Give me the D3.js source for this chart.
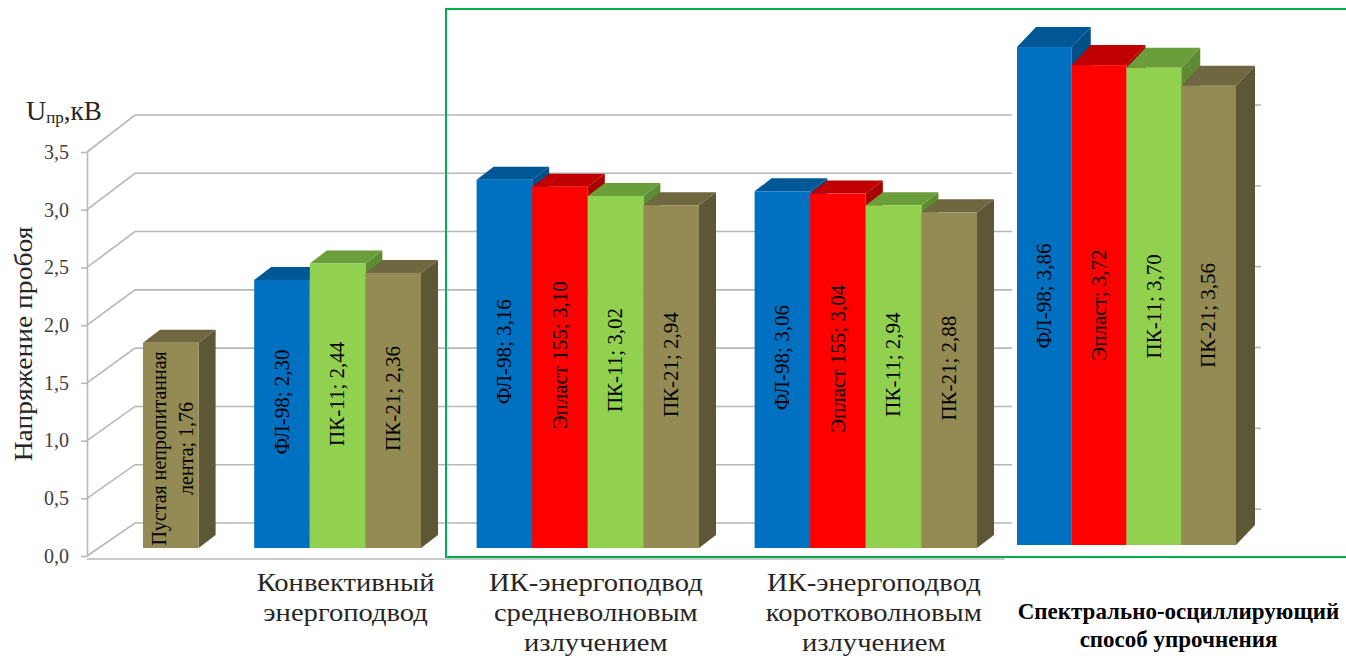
<!DOCTYPE html>
<html><head><meta charset="utf-8">
<script src="https://cdn.jsdelivr.net/npm/d3@7"></script>
<style>
html,body{margin:0;padding:0;background:#fff;}
svg{display:block;font-family:"Liberation Serif","Times New Roman",serif;}
</style></head>
<body><svg id="c" width="1346" height="656"></svg>
<script>
// ---------- DATA ----------
const categories = [
  [""],
  ["Конвективный", "энергоподвод"],
  ["ИК-энергоподвод", "средневолновым", "излучением"],
  ["ИК-энергоподвод", "коротковолновым", "излучением"],
  ["Спектрально-осциллирующий", "способ упрочнения"]
];
const seriesNames = ["Пустая непропитанная лента", "ФЛ-98", "Эпласт 155", "ПК-11", "ПК-21"];
const baseTape = [1.76, null, null, null, null];
const fl98     = [null, 2.30, 3.16, 3.06, 3.86];
const eplast   = [null, null, 3.10, 3.04, 3.72];
const pk11     = [null, 2.44, 3.02, 2.94, 3.70];
const pk21     = [null, 2.36, 2.94, 2.88, 3.56];
const labelNamesLastGroup = ["", "ФЛ-98", "Эпласт", "ПК-11", "ПК-21"];
const yTicks = [0, 0.5, 1.0, 1.5, 2.0, 2.5, 3.0, 3.5];
const insetGridTicks = [0.5, 1.0, 1.5, 2.0, 2.5, 3.0];
const yTitle = "Напряжение пробоя";

const seriesValues = [baseTape, fl98, eplast, pk11, pk21];
const seriesColors = [
  {front:"#948A54", top:"#6F6740", side:"#5E5735"},
  {front:"#0070C0", top:"#005796", side:"#004F88"},
  {front:"#FF0000", top:"#C00000", side:"#A80000"},
  {front:"#92D050", top:"#6A9E3A", side:"#5E8C33"},
  {front:"#948A54", top:"#6F6740", side:"#5E5735"}
];
const fmt = v => v.toFixed(2).replace(".", ",");

// ---------- SETUP ----------
const svg = d3.select("#c");
const font = '"Liberation Serif","Times New Roman",serif';

const xFront = 87, xBack = 135, gridEnd = 1012;
const yFront = d3.scaleLinear().domain([0, 3.5]).range([556, 152]);
const yBack  = d3.scaleLinear().domain([0, 3.5]).range([523, 115]);
const yBar   = d3.scaleLinear().domain([0, 3.5]).range([548, 140]);
const yInset = d3.scaleLinear().domain([0, 4]).range([545, 29]);
const yInsetBack = d3.scaleLinear().domain([0, 3]).range([590, 105]);

const slotKeys = [];
const mainGroups = [0, 1, 2, 3];
mainGroups.forEach((gi, k) => {
  if (k > 0) slotKeys.push("gap" + gi);
  seriesValues.forEach((arr, si) => { if (arr[gi] != null) slotKeys.push(gi + "_" + si); });
});
const xSlot = d3.scaleBand().domain(slotKeys).range([143, 977]).padding(0);
const lastGroup = 4;
const lastKeys = seriesValues.map((a, si) => si).filter(si => seriesValues[si][lastGroup] != null);
const xInset = d3.scaleBand().domain(lastKeys).range([1017, 1236]).padding(0);

// ---------- GRID / WALLS ----------
const grid = svg.append("g");
yTicks.forEach(t => {
  grid.append("path")
    .attr("d", `M${xFront},${yFront(t)}L${xBack},${yBack(t)}L${gridEnd},${yBack(t)}`)
    .attr("fill", "none").attr("stroke", "#b8b8b8").attr("stroke-width", 1.6);
});
grid.append("line").attr("x1", xFront).attr("x2", 1005)
  .attr("y1", yFront(0) + 3).attr("y2", yFront(0) + 3)
  .attr("stroke", "#b8b8b8").attr("stroke-width", 1.6);

insetGridTicks.forEach(t => {
  grid.append("line").attr("x1", 1236).attr("x2", 1261)
    .attr("y1", yInsetBack(t)).attr("y2", yInsetBack(t))
    .attr("stroke", "#b8b8b8").attr("stroke-width", 1.6);
});

// ---------- Y AXIS ----------
const axis = d3.axisLeft(yFront).tickValues(yTicks)
  .tickFormat(d => d.toFixed(1).replace(".", ","))
  .tickSize(6).tickSizeOuter(0).tickPadding(12);
const ag = svg.append("g").attr("transform", `translate(${xFront},0)`).call(axis);
ag.select(".domain").attr("stroke", "#b8b8b8").attr("stroke-width", 1.6);
ag.selectAll(".tick line").attr("stroke", "#b8b8b8").attr("stroke-width", 1.6);
ag.selectAll(".tick text").attr("font-family", font).attr("font-size", 20).attr("fill", "#404040");

svg.append("text")
  .attr("transform", `translate(32,344) rotate(-90) scale(1.06,1)`)
  .attr("text-anchor", "middle").attr("font-family", font).attr("font-size", 26)
  .attr("fill", "#262626").text(yTitle);

const ut = svg.append("text").attr("x", 26).attr("y", 120)
  .attr("font-family", font).attr("fill", "#262626");
ut.append("tspan").attr("font-size", 28).text("U");
ut.append("tspan").attr("font-size", 17).attr("dy", 3).text("пр");
ut.append("tspan").attr("font-size", 27).attr("dy", -3).text(",кВ");

// ---------- BARS ----------
function bar3d(g, x, w, y0, y1, dx, dy, col) {
  g.append("path").attr("d",
    `M${x + w},${y1}L${x + w + dx},${y1 + dy}L${x + w + dx},${y0 + dy}L${x + w},${y0}Z`)
    .attr("fill", col.side);
  g.append("path").attr("d",
    `M${x},${y1}L${x + dx},${y1 + dy}L${x + w + dx},${y1 + dy}L${x + w},${y1}Z`)
    .attr("fill", col.top);
  g.append("rect").attr("x", x).attr("y", y1).attr("width", w).attr("height", y0 - y1)
    .attr("fill", col.front);
}

const bars = svg.append("g");
const labelsG = svg.append("g");
mainGroups.forEach(gi => {
  seriesValues.forEach((arr, si) => {
    const v = arr[gi];
    if (v == null) return;
    const key = gi + "_" + si;
    const x = xSlot(key), w = xSlot.bandwidth();
    const y0 = yBar(0), y1 = yBar(v);
    bar3d(bars, x, w, y0, y1, 17, -13, seriesColors[si]);
    const cx = x + w / 2, cy = (y0 + y1) / 2;
    if (si === 0) {
      const t = labelsG.append("text")
        .attr("transform", `translate(${cx + 3},${cy + 3}) rotate(-90)`)
        .attr("text-anchor", "middle").attr("font-family", font).attr("font-size", 20).attr("fill", "#000");
      t.append("tspan").attr("x", 0).attr("dy", -8).text("Пустая непропитанная");
      t.append("tspan").attr("x", 0).attr("dy", 27).text("лента; " + fmt(v));
    } else {
      labelsG.append("text")
        .attr("transform", `translate(${cx},${cy - 12}) rotate(-90) scale(1.05,1)`)
        .attr("text-anchor", "middle").attr("dominant-baseline", "central")
        .attr("font-family", font).attr("font-size", 20).attr("fill", "#000")
        .text(seriesNames[si] + "; " + fmt(v));
    }
  });
});

lastKeys.forEach(si => {
  const v = seriesValues[si][lastGroup];
  const x = xInset(si), w = xInset.bandwidth();
  const y0 = yInset(0), y1 = yInset(v);
  bar3d(bars, x, w, y0, y1, 19, -20, seriesColors[si]);
  labelsG.append("text")
    .attr("transform", `translate(${x + w / 2},${(y0 + y1) / 2}) rotate(-90) scale(1.05,1)`)
    .attr("text-anchor", "middle").attr("dominant-baseline", "central")
    .attr("font-family", font).attr("font-size", 20).attr("fill", "#000")
    .text(labelNamesLastGroup[si] + "; " + fmt(v));
});

// ---------- CATEGORY LABELS ----------
const catG = svg.append("g");
[1, 2, 3].forEach(gi => {
  const keys = slotKeys.filter(k => k.startsWith(gi + "_"));
  const x0 = xSlot(keys[0]), x1 = xSlot(keys[keys.length - 1]) + xSlot.bandwidth();
  const cx = (x0 + x1) / 2 + 8;
  categories[gi].forEach((line, li) => {
    catG.append("text").attr("text-anchor", "middle")
      .attr("transform", `translate(${cx},${591 + li * 30}) scale(1.1,1)`)
      .attr("font-family", font).attr("font-size", 26).attr("fill", "#262626")
      .text(line);
  });
});
{
  const cx = (xInset.range()[0] + xInset.range()[1]) / 2 + 52;
  categories[lastGroup].forEach((line, li) => {
    catG.append("text").attr("text-anchor", "middle")
      .attr("transform", `translate(${cx},${619 + li * 28})`)
      .attr("font-family", font).attr("font-size", 23).attr("font-weight", "bold").attr("fill", "#000")
      .text(line);
  });
}

// ---------- GREEN FRAME ----------
svg.append("path").attr("d", "M1352,9L446,9L446,557L1352,557")
  .attr("fill", "none").attr("stroke", "#00B050").attr("stroke-width", 2);
</script>
</body></html>
